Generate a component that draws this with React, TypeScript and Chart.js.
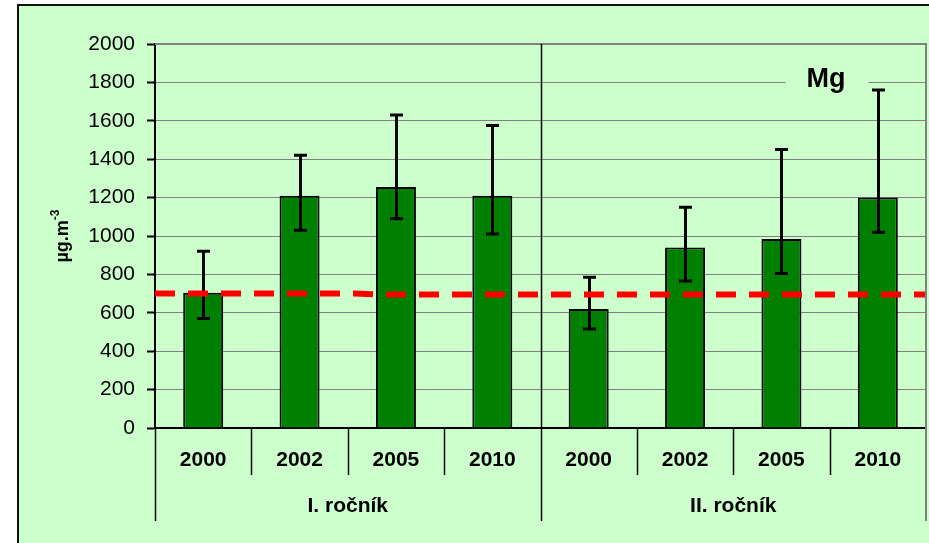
import React, { useEffect, useRef } from 'react';
import { Chart, registerables } from 'chart.js';
Chart.register(...registerables);

const years = ['2000', '2002', '2005', '2010', '2000', '2002', '2005', '2010'];
const groups = ['I. ročník', 'II. ročník'];
const groupSize = 4;
const means = [705, 1210, 1255, 1210, 620, 940, 985, 1200];
const errHigh = [920, 1420, 1630, 1575, 785, 1150, 1450, 1760];
const errLow = [570, 1030, 1090, 1010, 515, 765, 805, 1020];
const limitX = [0, 2.07, 2.33, 8];
const limitY = [700, 700, 695, 695];
const yMin = 0;
const yMax = 2000;
const yStep = 200;
const panelLabel = 'Mg';
const yTitle = 'µg.m';
const yTitleSup = '-3';

const FF = "'Liberation Sans', Arial, Helvetica, sans-serif";
const BG = '#CCFFCC';

const decor = {
  id: 'decor',
  beforeDraw(chart: any) {
    const { ctx, width, height } = chart;
    ctx.save();
    ctx.fillStyle = '#ffffff';
    ctx.fillRect(0, 0, width, height);
    ctx.fillStyle = BG;
    ctx.fillRect(17, 5, width - 17, height - 5);
    ctx.strokeStyle = '#111';
    ctx.lineWidth = 2;
    ctx.beginPath();
    ctx.moveTo(18, height);
    ctx.lineTo(18, 5);
    ctx.lineTo(width, 5);
    ctx.stroke();
    ctx.restore();
  },
  afterDatasetDraw(chart: any, args: any) {
    if (args.index !== 0) return;
    const { ctx } = chart;
    const ys = chart.scales.y;
    const meta = chart.getDatasetMeta(0);
    ctx.save();
    ctx.strokeStyle = '#000';
    ctx.lineWidth = 3;
    meta.data.forEach((bar: any, i: number) => {
      const x = Math.round(bar.x) + 0.5;
      const yh = ys.getPixelForValue(errHigh[i]);
      const yl = ys.getPixelForValue(errLow[i]);
      ctx.beginPath();
      ctx.moveTo(x, yh);
      ctx.lineTo(x, yl);
      ctx.moveTo(x - 6.5, yh);
      ctx.lineTo(x + 6.5, yh);
      ctx.moveTo(x - 6.5, yl);
      ctx.lineTo(x + 6.5, yl);
      ctx.stroke();
    });
    ctx.restore();
  },
  afterDraw(chart: any) {
    const { ctx, chartArea } = chart;
    const xs = chart.scales.x;
    const ys = chart.scales.y;
    const bound = (i: number) => xs.getPixelForValue(i);
    const bottom = chartArea.bottom;
    ctx.save();
    // plot area border (top, right)
    ctx.strokeStyle = '#808080';
    ctx.lineWidth = 2;
    ctx.beginPath();
    ctx.moveTo(chartArea.left, chartArea.top);
    ctx.lineTo(chartArea.right, chartArea.top);
    ctx.lineTo(chartArea.right, bottom + 93);
    ctx.stroke();
    // separators
    ctx.strokeStyle = '#000';
    ctx.lineWidth = 1.5;
    for (let i = 0; i < years.length; i++) {
      const x = Math.round(bound(i)) + 0.5;
      const isGroup = i % groupSize === 0;
      ctx.beginPath();
      if (isGroup && i > 0) {
        ctx.moveTo(x, chartArea.top);
      } else {
        ctx.moveTo(x, bottom);
      }
      ctx.lineTo(x, bottom + (isGroup ? 93 : 47));
      ctx.stroke();
    }
    // group labels
    ctx.fillStyle = '#000';
    ctx.font = `bold 21px ${FF}`;
    ctx.textAlign = 'center';
    ctx.textBaseline = 'middle';
    groups.forEach((g, gi) => {
      const x0 = bound(gi * groupSize);
      const x1 = bound((gi + 1) * groupSize);
      ctx.fillText(g, (x0 + x1) / 2, bottom + 78);
    });
    // panel label
    ctx.font = `bold 27px ${FF}`;
    const mx = 826;
    const my = 87;
    const mw = ctx.measureText(panelLabel).width;
    ctx.fillStyle = BG;
    ctx.fillRect(mx - mw / 2 - 21, ys.getPixelForValue(1900) + 6, mw + 44, 30);
    ctx.fillStyle = '#000';
    ctx.textBaseline = 'alphabetic';
    ctx.fillText(panelLabel, mx, my);
    // y title
    const cy = (chartArea.top + chartArea.bottom) / 2;
    ctx.font = `bold 18px ${FF}`;
    const w1 = ctx.measureText(yTitle).width;
    ctx.font = `bold 12px ${FF}`;
    const w2 = ctx.measureText(yTitleSup).width;
    const total = w1 + w2;
    ctx.translate(68, cy);
    ctx.rotate(-Math.PI / 2);
    ctx.textAlign = 'left';
    ctx.font = `bold 18px ${FF}`;
    ctx.fillText(yTitle, -total / 2, 0);
    ctx.font = `bold 12px ${FF}`;
    ctx.fillText(yTitleSup, -total / 2 + w1, -9);
    ctx.restore();
  },
};

export default function App() {
  const ref = useRef<HTMLCanvasElement>(null);
  useEffect(() => {
    document.body.style.margin = '0';
    const chart = new Chart(ref.current as HTMLCanvasElement, {
      type: 'bar',
      data: {
        datasets: [
          {
            type: 'bar',
            data: means.map((v, i) => ({ x: i + 0.5, y: v })),
            backgroundColor: '#008000',
            borderColor: '#000',
            borderWidth: 2,
            barPercentage: 0.415,
            categoryPercentage: 1,
            grouped: false,
            order: 2,
          } as any,
          {
            type: 'line',
            data: limitX.map((x, i) => ({ x, y: limitY[i] })),
            borderColor: '#FF0000',
            borderWidth: 6,
            borderDash: [20, 13],
            pointRadius: 0,
            fill: false,
            tension: 0,
            order: 1,
          } as any,
        ],
      },
      options: {
        responsive: false,
        animation: false,
        devicePixelRatio: 1,
        layout: { padding: { left: 0, top: 44, right: 3, bottom: 0 } },
        plugins: { legend: { display: false }, tooltip: { enabled: false } },
        scales: {
          x: {
            type: 'linear',
            min: 0,
            max: years.length,
            offset: false,
            grid: { display: true, drawOnChartArea: false, drawTicks: false },
            border: { display: true, color: '#000', width: 2 },
            afterBuildTicks: (s: any) => {
              s.ticks = years.map((_, i) => ({ value: i + 0.5 }));
            },
            ticks: {
              color: '#000',
              font: { family: FF, size: 21, weight: 'bold' },
              padding: 20,
              maxRotation: 0,
              autoSkip: false,
              callback: (v: any) => years[Math.floor(Number(v))] ?? '',
            },
            afterFit: (s: any) => { s.height = 115; },
          },
          y: {
            min: yMin,
            max: yMax,
            grid: { color: '#808080', lineWidth: 1, tickColor: '#000', tickLength: 8, tickWidth: 2 },
            border: { display: true, color: '#000', width: 2 },
            ticks: { stepSize: yStep, color: '#000', font: { family: FF, size: 21 }, padding: 12, callback: (v: any) => String(v) },
            afterFit: (s: any) => { s.width = 155; },
          },
        },
      } as any,
      plugins: [decor],
    });
    return () => chart.destroy();
  }, []);
  return (
    <div style={{ width: 929, height: 543 }}>
      <canvas ref={ref} width={929} height={543} />
    </div>
  );
}
